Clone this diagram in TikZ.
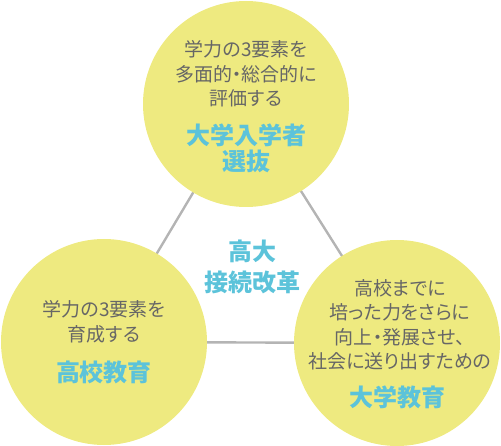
\documentclass[tikz,border=0pt]{standalone}
\usepackage{fontspec}
\setmainfont{Noto Sans CJK JP}[RawFeature=+palt]
\usetikzlibrary{backgrounds}
\definecolor{circyellow}{HTML}{EEEA80}
\definecolor{titleblue}{HTML}{5CC3DA}
\definecolor{bodygrey}{HTML}{666666}
\definecolor{linegrey}{HTML}{B4B4B4}
\begin{document}
\begin{tikzpicture}[x=1pt,y=-1pt,
  bubble/.style={circle,fill=circyellow,draw=none,minimum size=206pt,inner sep=0pt},
  bodytext/.style={text=bodygrey,align=center,inner sep=0pt,font=\fontsize{19}{24.5}\selectfont},
  titletext/.style={text=titleblue,align=center,inner sep=0pt,font=\bfseries\fontsize{24}{26}\selectfont},
  link/.style={draw=linegrey,line width=2.4pt}]
\useasboundingbox (0,0) rectangle (501,446);
\node[bubble] (top) at (246,104) {};
\node[bubble] (left) at (104,342) {};
\node[bubble] (right) at (397,343) {};
\begin{scope}[on background layer]
\draw[link] (top.center) -- (left.center);
\draw[link] (top.center) -- (right.center);
\draw[link] (left.center) -- (right.center);
\end{scope}
\node[bodytext] (topbody) at (246,74) {学力の3要素を\\多面的・総合的に\\評価する};
\node[titletext] (toptitle) at (246,148) {大学入学者\\選抜};
\node[bodytext] (leftbody) at (104,322) {学力の3要素を\\育成する};
\node[titletext] (lefttitle) at (104,372) {高校教育};
\node[bodytext] (rightbody) at (400,325) {高校までに\\培った力をさらに\\向上・発展させ、\\社会に送り出すための};
\node[titletext] (righttitle) at (397,397) {大学教育};
\node[titletext,font=\bfseries\fontsize{24}{30.5}\selectfont] (center) at (252,267) {高大\\接続改革};
\end{tikzpicture}
\end{document}
